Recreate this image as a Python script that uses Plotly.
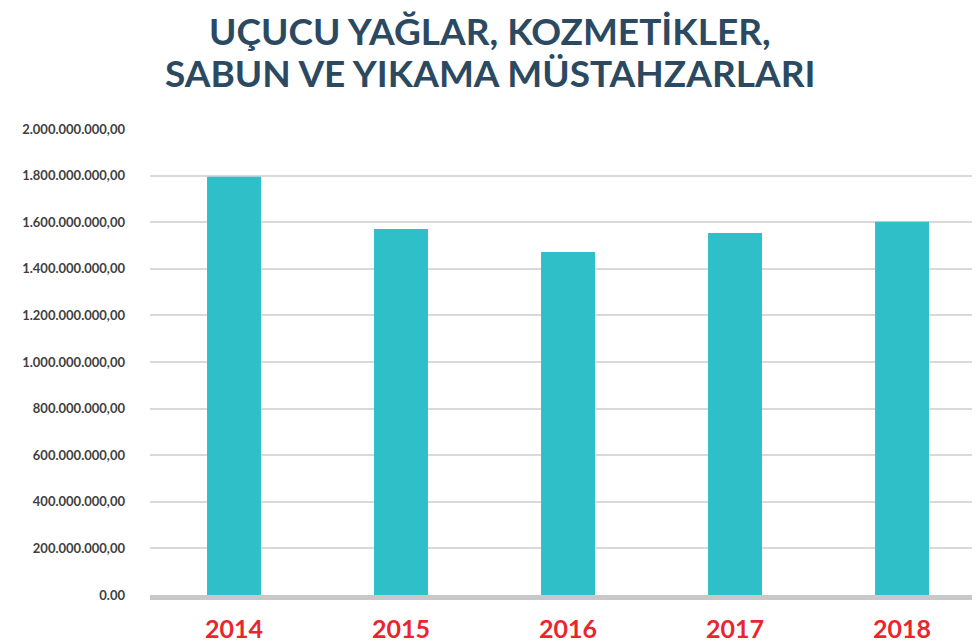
import plotly.graph_objects as go

years = ["2014", "2015", "2016", "2017", "2018"]
values = [1795000000, 1571000000, 1472000000, 1554000000, 1602000000]
tick_vals = [0, 200e6, 400e6, 600e6, 800e6, 1000e6, 1200e6, 1400e6, 1600e6, 1800e6, 2000e6]
tick_text = ["0.00", "200.000.000,00", "400.000.000,00", "600.000.000,00", "800.000.000,00",
             "1.000.000.000,00", "1.200.000.000,00", "1.400.000.000,00", "1.600.000.000,00",
             "1.800.000.000,00", "2.000.000.000,00"]
title_lines = ["UÇUCU YAĞLAR, KOZMETİKLER,", "SABUN VE YIKAMA MÜSTAHZARLARI"]

# page offset of the figure (default body margin)
OFF = 8
W, H = 980 - OFF, 643 - OFF
PLOT_LEFT, PLOT_TOP, PLOT_BOTTOM = 150 - OFF, 129 - OFF, 595 - OFF

def py_to_paper(py_page):
    return (PLOT_BOTTOM - (py_page - OFF)) / (PLOT_BOTTOM - PLOT_TOP)

fig = go.Figure()
fig.add_trace(go.Bar(x=list(range(len(years))), y=values, marker_color="#2ebfc9",
                     marker_line_width=0, hoverinfo="skip"))

annotations = []
for line, py in zip(title_lines, [31, 72]):
    annotations.append(dict(text=line, xref="paper", yref="paper",
                            x=(490 - OFF - PLOT_LEFT) / (W - PLOT_LEFT),
                            y=py_to_paper(py), xanchor="center", yanchor="middle",
                            showarrow=False,
                            font=dict(family="Lato, sans-serif", size=37, color="#2b4a62",
                                      weight="bold")))

fig.update_layout(
    width=W, height=H,
    margin=dict(l=PLOT_LEFT, r=0, t=PLOT_TOP, b=H - PLOT_BOTTOM, autoexpand=False),
    paper_bgcolor="white", plot_bgcolor="white",
    bargap=0.677,
    showlegend=False,
    font=dict(family="Lato, sans-serif"),
    annotations=annotations,
)
fig.update_xaxes(
    range=[-0.503, 4.467], tickmode="array", tickvals=list(range(len(years))), ticktext=years,
    tickfont=dict(size=25, color="#e8262e", weight="bold"),
    showgrid=False, showline=True, linecolor="#c8c8c8", linewidth=5,
    ticks="", ticklabelstandoff=8, zeroline=False, automargin=False,
)
fig.update_yaxes(
    range=[0, 2000e6], tickmode="array", tickvals=tick_vals, ticktext=tick_text,
    tickfont=dict(size=13, color="#404040", weight="bold"),
    showgrid=True, gridcolor="#d9d9d9", gridwidth=1.5, zeroline=False,
    ticks="", ticklabelstandoff=24, showline=False, automargin=False,
)
fig.write_html("out.html")
